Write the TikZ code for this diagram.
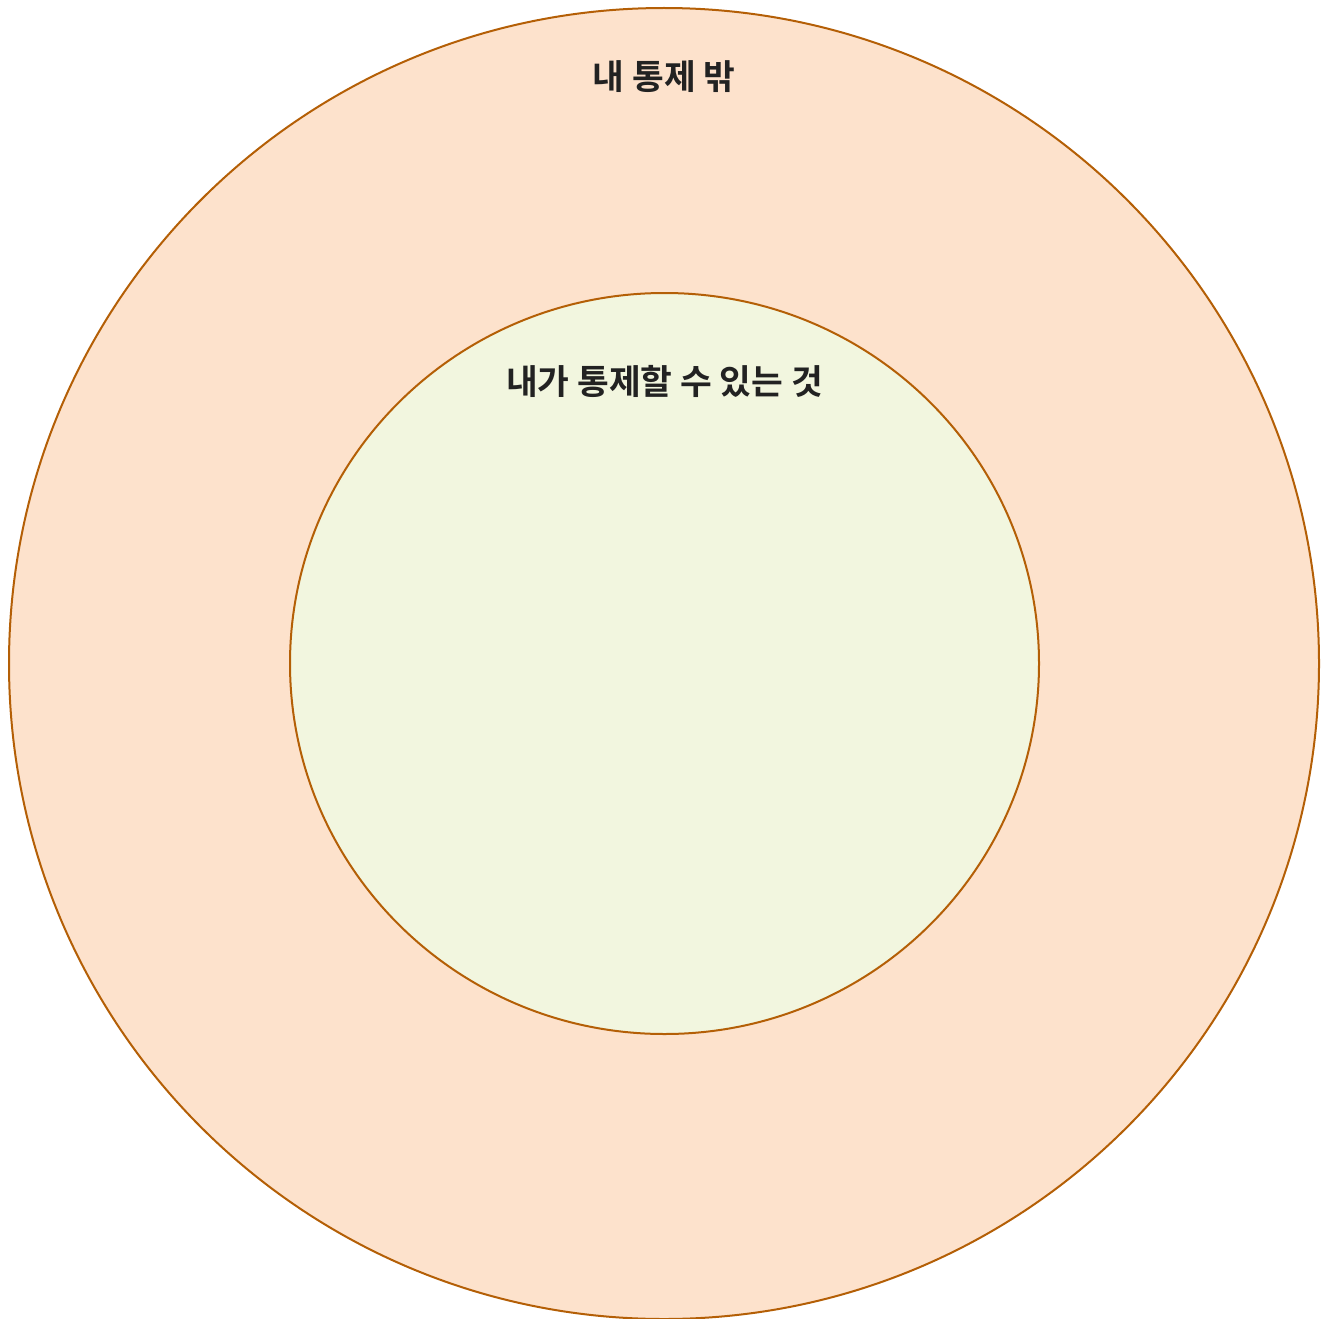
\documentclass[tikz,border=0pt]{standalone}
\usepackage{fontspec}
\newfontfamily\cjk{Noto Sans CJK KR}[BoldFont={Noto Sans CJK KR Bold}]
\usepackage{tikz}
\usetikzlibrary{positioning,shapes.geometric}
\definecolor{ringfill}{HTML}{FDE2CC}
\definecolor{corefill}{HTML}{F2F6DF}
\definecolor{ringline}{HTML}{B45F06}
\definecolor{labeltext}{HTML}{222222}

\begin{document}
\begin{tikzpicture}[x=1pt,y=-1pt,
  zone/.style={ellipse,draw=ringline,line width=2pt,inner sep=0pt},
  zonelabel/.style={font=\cjk\bfseries\fontsize{34.5}{40}\selectfont,text=labeltext,inner sep=0pt}
]
\useasboundingbox (0,0) rectangle (1330,1319);
%--- outer ring: outside my control ---
\node[zone,fill=ringfill,minimum width=1310pt,minimum height=1311pt] (outer) at (664,663.5) {};
%--- inner circle: what I can control ---
\node[zone,fill=corefill,minimum width=749pt,minimum height=741pt] (inner) at (664.5,663.5) {};
% labels
\node[zonelabel,below=70pt of outer.north,anchor=center] (outerlabel) {내 통제 밖};
\node[zonelabel,below=89pt of inner.north,anchor=center] (innerlabel) {내가 통제할 수 있는 것};
\end{tikzpicture}
\end{document}
